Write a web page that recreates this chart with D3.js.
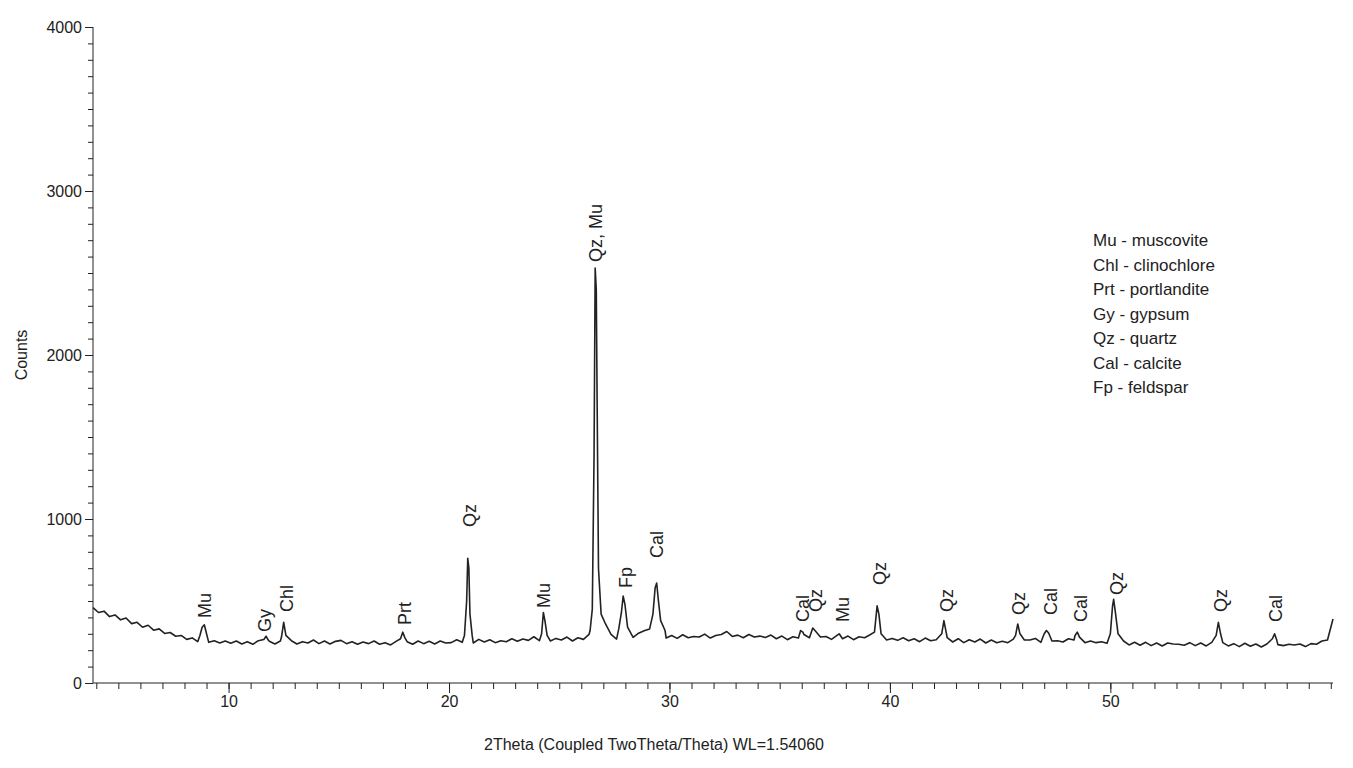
<!DOCTYPE html>
<html>
<head>
<meta charset="utf-8">
<script src="https://cdn.jsdelivr.net/npm/d3@7"></script>
<style>
  body { margin: 0; background: #fff; }
  text { font-family: "Liberation Sans", Arial, sans-serif; fill: #222; }
</style>
</head>
<body>
<svg id="chart"></svg>
<script>
// background counts, starting at 3.85 deg, step 0.25 deg
const bgStart = 3.85;
const bgStep = 0.25;
const background = [
  460,430,438,405,415,385,396,362,370,340,352,322,330,302,308,285,290,
  266,275,252,266,248,258,244,256,
  242,256,238,252,236,258,240,254,238,256,244,258,238,252,244,262,240,256,238,254,
  260,240,252,236,250,240,256,236,246,232,254,240,252,236,256,240,254,238,256,244,
  246,264,248,258,244,266,250,264,246,258,252,270,254,268,260,282,258,276,256,272,
  262,280,256,276,266,296,310,292,280,296,268,288,294,278,304,318,296,280,294,274,
  290,272,294,276,284,280,298,274,290,296,314,284,292,276,296,280,286,278,292,270,
  286,264,282,274,296,276,302,280,284,266,290,270,286,264,282,276,294,272,280,262,
  272,260,276,258,270,252,274,258,264,254,276,250,270,246,264,250,268,244,262,246,
  254,246,268,244,262,262,272,248,272,256,258,250,270,262,266,246,256,246,252,242,
  252,234,256,232,248,230,248,228,244,226,244,238,236,230,246,228,244,226,248,242,
  246,226,240,222,242,224,238,220,238,230,234,228,236,232,238,222,240,236,256,262,
  390
];

// peak points [2theta, counts]
const peaks = [
  [[8.7,290],[8.8,340],[8.9,355],[9.0,300]],
  [[11.6,265],[11.7,285],[11.8,262]],
  [[12.4,280],[12.5,370],[12.6,290]],
  [[17.8,270],[17.9,310],[18.0,275]],
  [[20.7,290],[20.8,500],[20.85,760],[20.9,700],[20.95,420],[21.05,290]],
  [[24.2,300],[24.28,430],[24.35,380],[24.45,290]],
  [[26.4,320],[26.5,450],[26.58,1400],[26.63,2530],[26.68,2400],[26.72,1700],[26.78,700],[26.9,420],[27.1,360]],
  [[27.7,330],[27.82,430],[27.9,530],[27.98,480],[28.1,340]],
  [[29.1,330],[29.25,420],[29.35,580],[29.42,610],[29.5,500],[29.6,380],[29.8,320]],
  [[35.95,320],[36.05,310]],
  [[36.5,335],[36.6,320]],
  [[37.7,300]],
  [[39.3,310],[39.42,470],[39.5,420],[39.6,300]],
  [[42.35,300],[42.45,380],[42.55,310]],
  [[45.7,290],[45.8,360],[45.9,300]],
  [[47.0,300],[47.1,320],[47.2,305]],
  [[48.4,290],[48.5,310],[48.6,280]],
  [[50.0,300],[50.1,470],[50.15,510],[50.22,440],[50.35,300]],
  [[54.8,290],[54.9,370],[55.0,300]],
  [[57.35,270],[57.45,300],[57.55,260]]
];

// phase labels [text, 2theta, counts at text base]
const labels = [
  ["Mu",8.91,396],["Gy",11.63,311],["Chl",12.63,433],["Prt",17.98,354],
  ["Qz",20.93,951],["Mu",24.29,457],["Qz, Mu",26.64,2567],["Fp",28.0,579],
  ["Cal",29.41,762],["Cal",36.03,372],["Qz",36.62,433],["Mu",37.85,372],
  ["Qz",39.52,598],["Qz",42.56,433],["Qz",45.83,415],["Cal",47.28,415],
  ["Cal",48.64,372],["Qz",50.27,537],["Qz",54.99,433],["Cal",57.48,372]
];

const legend = [
  "Mu - muscovite","Chl - clinochlore","Prt - portlandite","Gy - gypsum",
  "Qz - quartz","Cal - calcite","Fp - feldspar"
];

const W = 1353, H = 768;
const margin = { top: 27, right: 20, bottom: 85, left: 93 };
const width = W - margin.left - margin.right;
const height = H - margin.top - margin.bottom;

const svg = d3.select('#chart').attr('width', W).attr('height', H);
const g = svg.append('g').attr('transform', `translate(${margin.left},${margin.top})`);

const x = d3.scaleLinear().domain([3.85, 60.1]).range([0, width]);
const y = d3.scaleLinear().domain([0, 4000]).range([height, 0]);

// build the series: background without points inside peak spans, plus peaks
const spans = peaks.map(p => [p[0][0] - 0.01, p[p.length - 1][0] + 0.01]);
let points = background.map((v, i) => [bgStart + i * bgStep, v])
  .filter(d => !spans.some(s => d[0] >= s[0] && d[0] <= s[1]));
peaks.forEach(p => { points = points.concat(p); });
points.sort((a, b) => a[0] - b[0]);

g.append('path')
  .datum(points)
  .attr('d', d3.line().x(d => x(d[0])).y(d => y(d[1])))
  .style('fill', 'none')
  .style('stroke', '#222')
  .style('stroke-width', '1.6px')
  .style('stroke-linejoin', 'round');

// axes
const xAxis = g.append('g').attr('transform', `translate(0,${height})`);
xAxis.call(d3.axisBottom(x).tickValues(d3.range(4, 61, 1)).tickSize(6).tickFormat(''));
xAxis.call(g2 => g2.append('g').call(d3.axisBottom(x).tickValues([10, 20, 30, 40, 50]).tickSize(10).tickFormat(d3.format('d'))));
xAxis.selectAll('.domain').remove();
g.append('line').attr('x1', 0).attr('x2', width).attr('y1', height).attr('y2', height)
  .style('stroke', '#222');

const yAxis = g.append('g');
yAxis.call(d3.axisLeft(y).tickValues(d3.range(0, 4001, 100)).tickSize(5).tickFormat(''));
yAxis.call(g2 => g2.append('g').call(d3.axisLeft(y).tickValues([0, 1000, 2000, 3000, 4000]).tickSize(8).tickFormat(d3.format('d'))));
yAxis.selectAll('.domain').remove();
g.append('line').attr('x1', 0).attr('x2', 0).attr('y1', 0).attr('y2', height)
  .style('stroke', '#222');

g.selectAll('.tick line').style('stroke', '#222');
g.selectAll('.tick text').style('font-size', '16px').style('fill', '#222')
  .style('font-family', '"Liberation Sans", Arial, sans-serif');

// peak labels
g.selectAll('.plabel')
  .data(labels)
  .enter().append('text')
  .attr('class', 'plabel')
  .attr('transform', d => `translate(${x(d[1])},${y(d[2])}) rotate(-90)`)
  .attr('dy', '0.35em')
  .style('font-size', '18px')
  .text(d => d[0]);

// legend
g.selectAll('.leg')
  .data(legend)
  .enter().append('text')
  .attr('x', 1093 - margin.left)
  .attr('y', (d, i) => 246 - margin.top + i * 24.5)
  .style('font-size', '17px')
  .text(d => d);

// axis labels
g.append('text')
  .attr('text-anchor', 'middle')
  .attr('x', 654 - margin.left)
  .attr('y', 750 - margin.top)
  .style('font-size', '16px')
  .text('2Theta (Coupled TwoTheta/Theta) WL=1.54060');

g.append('text')
  .attr('text-anchor', 'middle')
  .attr('transform', `translate(${27 - margin.left},${355 - margin.top}) rotate(-90)`)
  .style('font-size', '16px')
  .text('Counts');
</script>
</body>
</html>
